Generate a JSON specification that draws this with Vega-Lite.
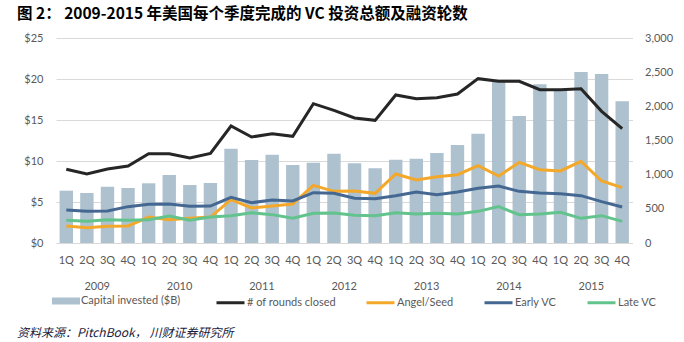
{
  "$schema": "https://vega.github.io/schema/vega-lite/v6.json",
  "width": 576.5,
  "height": 205,
  "autosize": {"type": "none"},
  "padding": {"left": 56, "top": 38, "right": 51.5, "bottom": 99},
  "background": "white",
  "title": {
    "text": "图 2：  2009-2015 年美国每个季度完成的 VC 投资总额及融资轮数",
    "anchor": "start",
    "frame": "group",
    "dx": -39,
    "offset": 9.5,
    "font": "Noto Sans CJK SC",
    "fontSize": 15.5,
    "fontWeight": "bold",
    "color": "#000000"
  },
  "config": {
    "view": {"stroke": null},
    "axis": {
      "labelFont": "Lato",
      "labelColor": "#595959",
      "labelFontSize": 11,
      "ticks": false,
      "domain": false,
      "title": null
    }
  },
  "datasets": {
    "quarters": [
      {"q": "2009-1Q", "capital": 6.38, "rounds": 1078, "angel": 249, "early": 483, "late": 332},
      {"q": "2009-2Q", "capital": 6.10, "rounds": 1010, "angel": 224, "early": 463, "late": 317},
      {"q": "2009-3Q", "capital": 6.87, "rounds": 1083, "angel": 244, "early": 468, "late": 341},
      {"q": "2009-4Q", "capital": 6.71, "rounds": 1127, "angel": 249, "early": 532, "late": 332},
      {"q": "2010-1Q", "capital": 7.28, "rounds": 1307, "angel": 380, "early": 566, "late": 341},
      {"q": "2010-2Q", "capital": 8.29, "rounds": 1307, "angel": 341, "early": 571, "late": 395},
      {"q": "2010-3Q", "capital": 7.07, "rounds": 1244, "angel": 361, "early": 537, "late": 332},
      {"q": "2010-4Q", "capital": 7.32, "rounds": 1312, "angel": 380, "early": 541, "late": 380},
      {"q": "2011-1Q", "capital": 11.5, "rounds": 1712, "angel": 634, "early": 668, "late": 400},
      {"q": "2011-2Q", "capital": 10.12, "rounds": 1551, "angel": 512, "early": 590, "late": 444},
      {"q": "2011-3Q", "capital": 10.77, "rounds": 1600, "angel": 541, "early": 629, "late": 415},
      {"q": "2011-4Q", "capital": 9.51, "rounds": 1561, "angel": 571, "early": 615, "late": 361},
      {"q": "2012-1Q", "capital": 9.80, "rounds": 2039, "angel": 844, "early": 737, "late": 434},
      {"q": "2012-2Q", "capital": 10.89, "rounds": 1941, "angel": 756, "early": 727, "late": 439},
      {"q": "2012-3Q", "capital": 9.72, "rounds": 1829, "angel": 761, "early": 654, "late": 405},
      {"q": "2012-4Q", "capital": 9.11, "rounds": 1795, "angel": 727, "early": 649, "late": 400},
      {"q": "2013-1Q", "capital": 10.16, "rounds": 2166, "angel": 1010, "early": 693, "late": 444},
      {"q": "2013-2Q", "capital": 10.28, "rounds": 2112, "angel": 922, "early": 746, "late": 424},
      {"q": "2013-3Q", "capital": 10.98, "rounds": 2127, "angel": 971, "early": 707, "late": 434},
      {"q": "2013-4Q", "capital": 11.95, "rounds": 2180, "angel": 1000, "early": 746, "late": 424},
      {"q": "2014-1Q", "capital": 13.33, "rounds": 2405, "angel": 1132, "early": 800, "late": 463},
      {"q": "2014-2Q", "capital": 19.72, "rounds": 2366, "angel": 980, "early": 834, "late": 532},
      {"q": "2014-3Q", "capital": 15.49, "rounds": 2366, "angel": 1180, "early": 756, "late": 415},
      {"q": "2014-4Q", "capital": 19.35, "rounds": 2244, "angel": 1073, "early": 732, "late": 424},
      {"q": "2015-1Q", "capital": 18.7, "rounds": 2244, "angel": 1054, "early": 722, "late": 449},
      {"q": "2015-2Q", "capital": 20.85, "rounds": 2258, "angel": 1195, "early": 693, "late": 361},
      {"q": "2015-3Q", "capital": 20.61, "rounds": 1927, "angel": 907, "early": 605, "late": 400},
      {"q": "2015-4Q", "capital": 17.28, "rounds": 1673, "angel": 810, "early": 527, "late": 317}
    ],
    "years": [
      {"year": "2009"}, {"year": "2010"}, {"year": "2011"}, {"year": "2012"},
      {"year": "2013"}, {"year": "2014"}, {"year": "2015"}
    ]
  },
  "layer": [
    {
      "layer": [
        {
          "data": {"name": "quarters"},
          "mark": {"type": "bar"},
          "encoding": {
            "x": {
              "field": "q", "type": "ordinal", "sort": null,
              "scale": {"paddingInner": 0.35, "paddingOuter": 0.175},
              "axis": {"labelExpr": "substring(datum.value, 5)", "labelPadding": 11, "labelAngle": 0, "grid": false}
            },
            "y": {
              "field": "capital", "type": "quantitative",
              "scale": {"domain": [0, 25]},
              "axis": {"orient": "left", "values": [0, 5, 10, 15, 20, 25], "labelExpr": "'$' + datum.value", "grid": true, "gridColor": "#D9D9D9", "labelPadding": 13}
            },
            "fill": {
              "datum": "Capital invested ($B)", "type": "nominal",
              "scale": {"range": ["#ADC1CE"]},
              "legend": {
                "orient": "none", "legendX": -4, "legendY": 249, "title": null, "padding": 0,
                "symbolType": "M-1,-0.25H1V0.25H-1Z", "symbolSize": 784, "symbolStrokeWidth": 0,
                "labelFont": "Lato", "labelFontSize": 11, "labelColor": "#595959", "labelOffset": 1
              }
            }
          }
        },
        {
          "data": {"name": "quarters"},
          "transform": [{"fold": ["rounds", "angel", "early", "late"], "as": ["series", "value"]}],
          "mark": {"type": "line", "strokeWidth": 3},
          "encoding": {
            "x": {"field": "q", "type": "ordinal", "sort": null},
            "y": {
              "field": "value", "type": "quantitative",
              "scale": {"domain": [0, 3000]},
              "axis": {"orient": "right", "values": [0, 500, 1000, 1500, 2000, 2500, 3000], "labelExpr": "format(datum.value, ',.0f')", "grid": false, "labelPadding": 12}
            },
            "stroke": {
              "field": "series", "type": "nominal",
              "scale": {"domain": ["rounds", "angel", "early", "late"], "range": ["#262626", "#F4A82A", "#456892", "#63C38C"]},
              "legend": {
                "orient": "none", "legendX": 159, "legendY": 249, "direction": "horizontal", "columns": 4,
                "title": null, "padding": 0, "columnPadding": 24,
                "symbolType": "stroke", "symbolSize": 784, "symbolStrokeWidth": 3,
                "labelExpr": "{'rounds': '# of rounds closed', 'angel': 'Angel/Seed', 'early': 'Early VC', 'late': 'Late VC'}[datum.value]",
                "labelFont": "Lato", "labelFontSize": 11, "labelColor": "#595959", "labelOffset": 1
              }
            }
          }
        }
      ],
      "resolve": {"scale": {"y": "independent"}}
    },
    {
      "data": {"name": "years"},
      "mark": {"type": "rule", "opacity": 0},
      "encoding": {
        "x": {
          "field": "year", "type": "ordinal",
          "scale": {"paddingInner": 0, "paddingOuter": 0},
          "axis": {"orient": "bottom", "labelPadding": 37, "labelAngle": 0, "grid": false}
        }
      }
    },
    {
      "data": {"values": [{}]},
      "mark": {"type": "rule", "x": -51, "x2": 628.5, "y": -12.5, "y2": -12.5, "color": "#C00000", "strokeWidth": 1.5},
      "encoding": {}
    },
    {
      "data": {"values": [{}]},
      "mark": {"type": "rule", "x": -56, "x2": 628.5, "y": 274, "y2": 274, "color": "#000000", "strokeWidth": 1.5},
      "encoding": {}
    },
    {
      "data": {"values": [{}]},
      "mark": {"type": "text", "x": -39, "y": 294.5, "text": "资料来源：PitchBook，  川财证券研究所", "align": "left", "baseline": "middle", "font": "Noto Sans CJK SC", "fontStyle": "italic", "fontSize": 12, "color": "#1A1A3A"},
      "encoding": {}
    }
  ],
  "resolve": {"scale": {"x": "independent", "y": "independent"}, "axis": {"x": "independent", "y": "independent"}}
}
